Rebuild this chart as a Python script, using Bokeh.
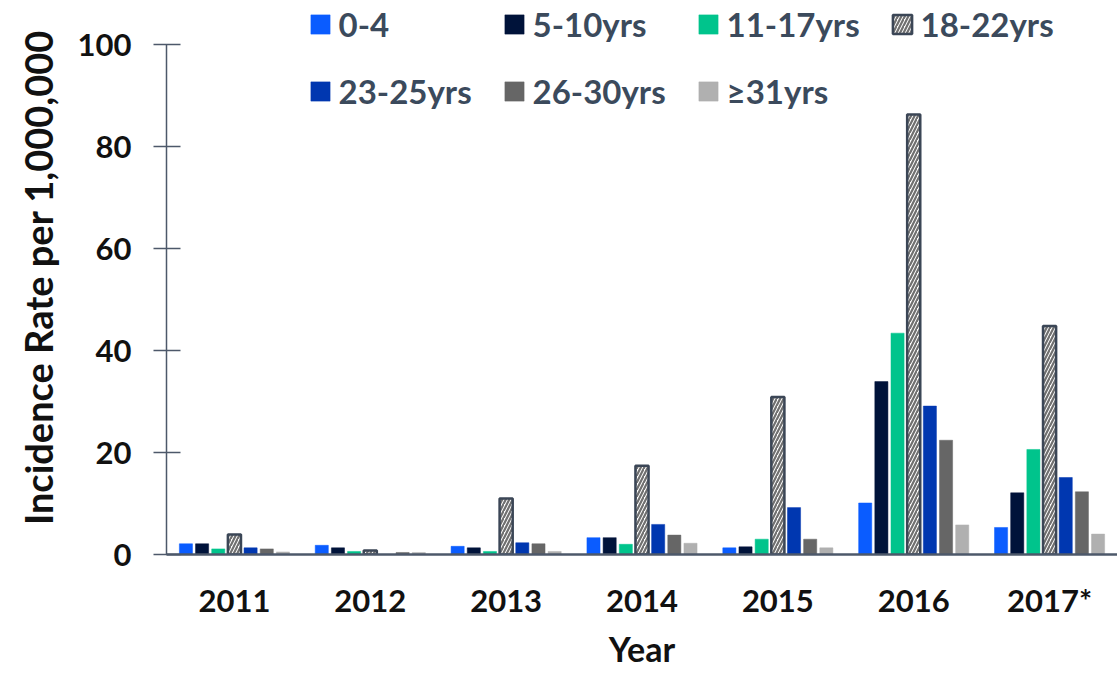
from bokeh.plotting import figure
from bokeh.models import (ColumnDataSource, FactorRange, Range1d, Legend, LegendItem,
                          FixedTicker, Title)
from bokeh.transform import dodge
from bokeh.embed import file_html
from bokeh.resources import INLINE

years = ["2011", "2012", "2013", "2014", "2015", "2016", "2017*"]
age_0_4 = [2.1, 1.8, 1.6, 3.3, 1.3, 10.1, 5.3]
age_5_10 = [2.1, 1.3, 1.3, 3.3, 1.5, 33.9, 12.1]
age_11_17 = [1.1, 0.6, 0.6, 2.0, 3.0, 43.4, 20.6]
age_18_22 = [3.9, 0.8, 11.0, 17.4, 30.9, 86.3, 44.8]
age_23_25 = [1.3, 0.0, 2.3, 5.9, 9.2, 29.1, 15.1]
age_26_30 = [1.1, 0.4, 2.1, 3.8, 3.0, 22.4, 12.3]
age_31_up = [0.5, 0.4, 0.6, 2.2, 1.3, 5.8, 4.0]

series_labels = ["0-4", "5-10yrs", "11-17yrs", "18-22yrs", "23-25yrs", "26-30yrs", "\u226531yrs"]
series_keys = ["a0", "a5", "a11", "a18", "a23", "a26", "a31"]
colors = ["#0a5cff", "#00133a", "#00c48c", "white", "#0037b0", "#666666", "#b0b0b0"]

source = ColumnDataSource(dict(year=years, a0=age_0_4, a5=age_5_10, a11=age_11_17,
                               a18=age_18_22, a23=age_23_25, a26=age_26_30, a31=age_31_up))

FONT = "Lato"
TEXT_DARK = "#111111"
AXIS_COL = "#4d586a"

p = figure(x_range=FactorRange(*years), y_range=Range1d(0, 108.63),
           width=1117, height=677, output_backend="svg", toolbar_location=None,
           min_border_left=166, min_border_right=0, min_border_top=0, min_border_bottom=123)

step = 0.119
bw = 0.0965
items = []
for i, (key, lab, col) in enumerate(zip(series_keys, series_labels, colors)):
    off = (i - 3) * step
    if key == "a18":
        r = p.vbar(x=dodge("year", off, range=p.x_range), top=key, width=bw, source=source,
                   fill_color="white", hatch_pattern="/", hatch_color="#707070",
                   hatch_scale=7, hatch_weight=2.2,
                   line_color="#3b4656", line_width=2.5)
    else:
        r = p.vbar(x=dodge("year", off, range=p.x_range), top=key, width=bw, source=source,
                   fill_color=col, line_color=col, line_width=0.5)
    items.append(LegendItem(label=lab, renderers=[r]))

legend = Legend(items=items, ncols=4, location=(141.6, 443.5), orientation="horizontal",
                glyph_width=24, glyph_height=24, label_standoff=7, spacing=27,
                label_width=136,
                padding=0, margin=0, border_line_color=None, background_fill_alpha=0,
                label_text_font=FONT, label_text_font_style="bold",
                label_text_font_size="33px", label_text_color="#3b4a5c")
p.add_layout(legend)

p.xgrid.visible = False
p.ygrid.visible = False
p.outline_line_color = None
p.background_fill_color = "white"

yax = p.yaxis[0]
yax.ticker = FixedTicker(ticks=[0, 20, 40, 60, 80, 100])
yax.bounds = (0, 100)
yax.axis_line_color = AXIS_COL
yax.axis_line_width = 1.5
yax.major_tick_line_color = AXIS_COL
yax.major_tick_line_width = 1.5
yax.major_tick_in = 14
yax.major_tick_out = 13
yax.minor_tick_line_color = None
yax.major_label_standoff = 22
yax.major_label_text_font = FONT
yax.major_label_text_font_style = "bold"
yax.major_label_text_font_size = "31px"
yax.major_label_text_color = TEXT_DARK
yax.axis_label = "Incidence Rate per 1,000,000"
yax.axis_label_text_font = FONT
yax.axis_label_text_font_style = "bold"
yax.axis_label_text_font_size = "38px"
yax.axis_label_text_color = TEXT_DARK
yax.axis_label_standoff = 14

xax = p.xaxis[0]
xax.axis_line_color = AXIS_COL
xax.axis_line_width = 2.5
xax.major_tick_line_color = None
xax.major_tick_in = 0
xax.major_tick_out = 0
xax.minor_tick_line_color = None
xax.major_label_standoff = 26
xax.major_label_text_font = FONT
xax.major_label_text_font_style = "bold"
xax.major_label_text_font_size = "31px"
xax.major_label_text_color = TEXT_DARK

year_title = Title(text="Year", align="center", vertical_align="top", standoff=12,
                   text_font=FONT, text_font_style="bold", text_font_size="34px",
                   text_color=TEXT_DARK)
p.add_layout(year_title, "below")

open("out.html", "w").write(file_html(p, INLINE))
